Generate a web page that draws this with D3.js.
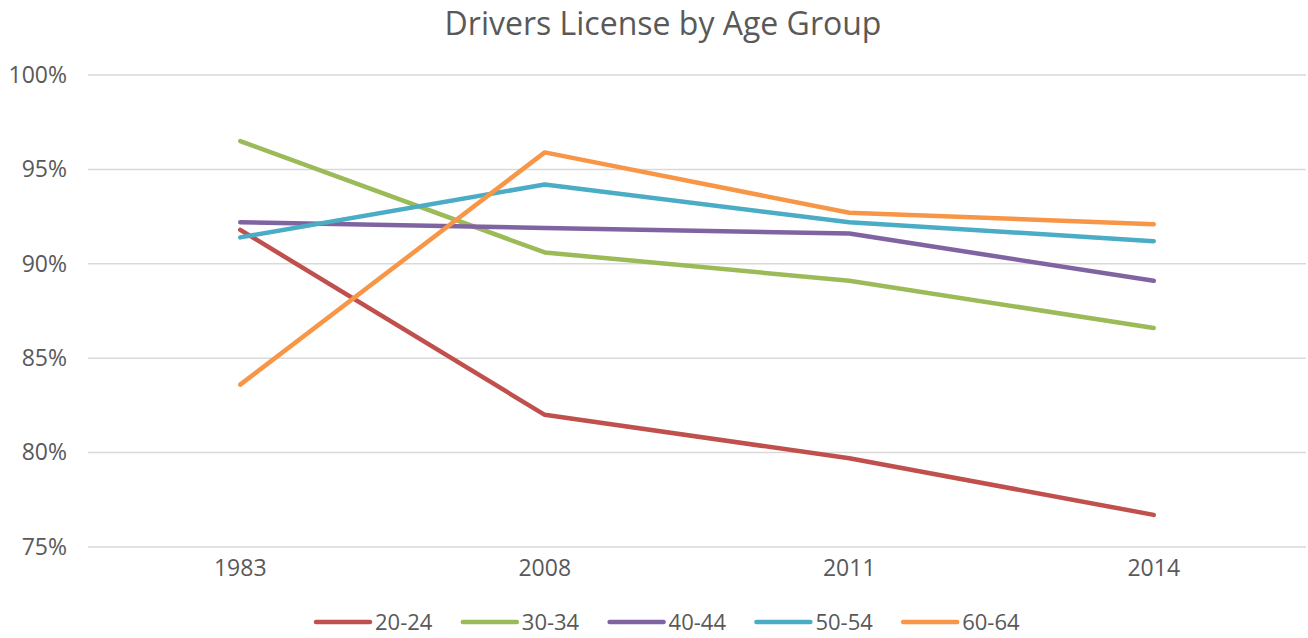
<!DOCTYPE html>
<html>
<head>
<meta charset="utf-8">
<script src="https://cdnjs.cloudflare.com/ajax/libs/d3/7.8.5/d3.min.js"></script>
<style>
  body { margin: 0; background: #fff; }
  svg text { font-family: "Open Sans", "DejaVu Sans", sans-serif; fill: #595959; }
</style>
</head>
<body>
<div id="chart"></div>
<script>
// data
var years = ["1983", "2008", "2011", "2014"];
var groups = ["20-24", "30-34", "40-44", "50-54", "60-64"];
var v2024 = [91.8, 82.0, 79.7, 76.7];
var v3034 = [96.5, 90.6, 89.1, 86.6];
var v4044 = [92.2, 91.9, 91.6, 89.1];
var v5054 = [91.4, 94.2, 92.2, 91.2];
var v6064 = [83.6, 95.9, 92.7, 92.1];
var yTicks = [75, 80, 85, 90, 95, 100];
var colors = ["#C0504D", "#9BBB59", "#8064A2", "#4BACC6", "#F79646"];

var series = [v2024, v3034, v4044, v5054, v6064];

var width = 1308, height = 638;
var margin = {top: 75, right: 2, bottom: 91, left: 88};

var svg = d3.select("#chart")
  .append("svg")
    .attr("width", width)
    .attr("height", height);

// title
svg.append("text")
  .attr("x", 663)
  .attr("y", 35)
  .attr("text-anchor", "middle")
  .style("font-size", "32px")
  .text("Drivers License by Age Group");

var x = d3.scaleBand()
  .domain(years)
  .range([margin.left, width - margin.right]);

var y = d3.scaleLinear()
  .domain([75, 100])
  .range([height - margin.bottom, margin.top]);

// gridlines
svg.append("g")
  .selectAll("line")
  .data(yTicks)
  .enter()
  .append("line")
    .attr("x1", margin.left)
    .attr("x2", width - margin.right)
    .attr("y1", function(d) { return y(d); })
    .attr("y2", function(d) { return y(d); })
    .attr("stroke", "#d9d9d9")
    .attr("stroke-width", 1.5);

// Y axis labels
var yAxis = svg.append("g")
  .attr("transform", "translate(" + (margin.left - 21) + ",0)")
  .call(d3.axisLeft(y).tickValues(yTicks).tickSize(0).tickFormat(function(d) { return d + "%"; }));
yAxis.select(".domain").remove();
yAxis.selectAll("text").style("font-size", "23px").attr("x", 0);

// X axis labels
var xAxis = svg.append("g")
  .attr("transform", "translate(0," + (height - margin.bottom + 10) + ")")
  .call(d3.axisBottom(x).tickSize(0));
xAxis.select(".domain").remove();
xAxis.selectAll("text").style("font-size", "23px");

// lines
var line = d3.line()
  .x(function(d, i) { return x(years[i]) + x.bandwidth() / 2; })
  .y(function(d) { return y(d); });

svg.append("g")
  .selectAll("path")
  .data(series)
  .enter()
  .append("path")
    .attr("d", line)
    .attr("fill", "none")
    .attr("stroke", function(d, i) { return colors[i]; })
    .attr("stroke-width", 4.5)
    .attr("stroke-linecap", "round")
    .attr("stroke-linejoin", "round");

// legend
var legend = svg.append("g")
  .selectAll("g")
  .data(groups)
  .enter()
  .append("g")
    .attr("transform", function(d, i) { return "translate(" + (316 + i * 146.8) + ",622)"; });

legend.append("line")
  .attr("x1", 0)
  .attr("x2", 54)
  .attr("stroke", function(d, i) { return colors[i]; })
  .attr("stroke-width", 4.5)
  .attr("stroke-linecap", "round");

legend.append("text")
  .attr("x", 59)
  .attr("dy", "0.35em")
  .style("font-size", "22px")
  .text(function(d) { return d; });
</script>
</body>
</html>
